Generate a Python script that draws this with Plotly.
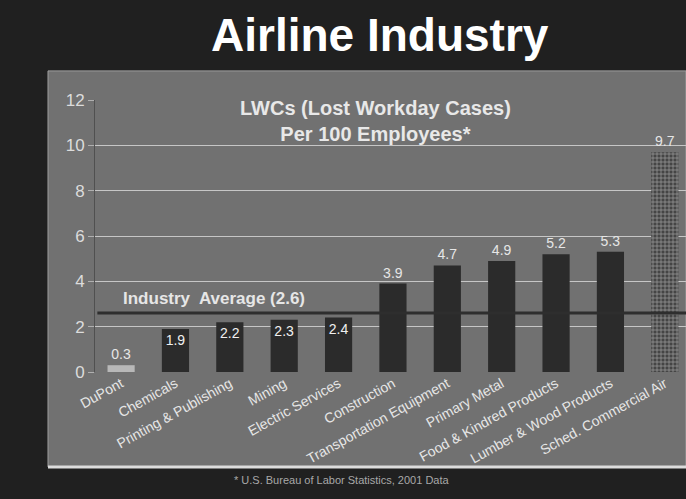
import plotly.graph_objects as go

categories = ["DuPont", "Chemicals", "Printing & Publishing", "Mining", "Electric Services",
              "Construction", "Transportation Equipment", "Primary Metal",
              "Food & Kindred Products", "Lumber & Wood Products", "Sched. Commercial Air"]
lwc_values = [0.3, 1.9, 2.2, 2.3, 2.4, 3.9, 4.7, 4.9, 5.2, 5.3, 9.7]
value_labels = ["0.3", "1.9", "2.2", "2.3", "2.4", "3.9", "4.7", "4.9", "5.2", "5.3", "9.7"]
industry_average = 2.6
y_ticks = [0, 2, 4, 6, 8, 10, 12]

FONT = "Liberation Sans, Arial, sans-serif"

bar_colors = ["#b8b8b8"] + ["#2b2b2b"] * 9 + ["#454545"]
patterns = [""] * 10 + ["+"]
text_pos = ["outside" if (v < 1 or v > 3) else "inside" for v in lwc_values]

fig = go.Figure()
fig.add_trace(go.Bar(
    x=categories, y=lwc_values,
    text=value_labels, textposition=text_pos, insidetextanchor="end",
    textfont=dict(size=14, color="#e6e6e6", family=FONT),
    insidetextfont=dict(size=14, color="#f0f0f0", family=FONT),
    outsidetextfont=dict(size=14, color="#e6e6e6", family=FONT),
    marker=dict(color=bar_colors, line=dict(width=0),
                pattern=dict(shape=patterns, fgcolor="#5a5a5a", bgcolor="#454545",
                             size=4, solidity=0.3)),
    cliponaxis=False, width=0.5, showlegend=False, hoverinfo="skip",
))

# panel behind plot
fig.add_shape(type="rect", xref="paper", yref="paper",
              x0=-0.0795, x1=1.0, y0=-0.349, y1=1.107,
              fillcolor="#717171", line=dict(color="#a0a0a0", width=1), layer="below")
fig.add_shape(type="line", xref="paper", yref="paper",
              x0=-0.0795, x1=1.0, y0=-0.349, y1=-0.349,
              line=dict(color="#dcdcdc", width=3), layer="below")

# industry average line
fig.add_shape(type="line", xref="paper", yref="y", x0=0.004, x1=1.0,
              y0=industry_average, y1=industry_average,
              line=dict(color="#2e2e2e", width=3), layer="above")
fig.add_annotation(xref="paper", yref="y", x=0.201, y=industry_average,
                   text=f"<b>Industry  Average ({industry_average})</b>", showarrow=False,
                   yanchor="bottom", yshift=3, xanchor="center",
                   font=dict(size=17, color="#e6e6e6", family=FONT))

# title
fig.add_annotation(xref="paper", yref="paper", x=(380 - 95) / 591, y=1.0 + (100 - 35) / 272,
                   text="<b>Airline Industry</b>", showarrow=False,
                   xanchor="center", yanchor="middle",
                   font=dict(size=46, color="#ffffff", family=FONT))

# subtitle
fig.add_annotation(xref="paper", yref="paper", x=(375 - 95) / 591, y=(372 - 121) / 272,
                   text="<b>LWCs (Lost Workday Cases)<br>Per 100 Employees*</b>",
                   showarrow=False, xanchor="center", yanchor="middle",
                   font=dict(size=20, color="#e8e8e8", family=FONT))

# footnote
fig.add_annotation(xref="paper", yref="paper", x=(342 - 95) / 591, y=(372 - 480) / 272,
                   text="* U.S. Bureau of Labor Statistics, 2001 Data", showarrow=False,
                   xanchor="center", yanchor="middle",
                   font=dict(size=11, color="#a8a8a8", family=FONT))

fig.update_layout(
    width=686, height=499,
    margin=dict(l=95, r=0, t=100, b=127),
    paper_bgcolor="#202020", plot_bgcolor="rgba(0,0,0,0)",
    font=dict(family=FONT),
    bargap=0.5,
    uniformtext=dict(minsize=8, mode="show"),
    xaxis=dict(range=[-0.48, 10.39], tickangle=-29, showgrid=False, showline=False,
               ticks="", tickfont=dict(size=14, color="#e6e6e6", family=FONT)),
    yaxis=dict(range=[0, 12], tickvals=y_ticks, showgrid=True, gridcolor="#c6c6c6",
               gridwidth=1, zeroline=False, showline=True, linecolor="#505050", linewidth=1,
               ticks="outside", ticklen=6, tickcolor="#b0b0b0",
               tickfont=dict(size=17, color="#dcdcdc", family=FONT)),
)

fig.write_html("out.html", config={"displayModeBar": False},
               post_script="document.body.style.margin='0';document.body.style.overflow='hidden';")
